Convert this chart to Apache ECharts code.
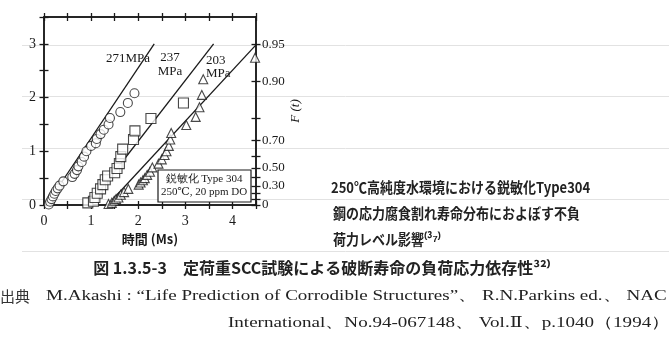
<!DOCTYPE html>
<html>
<head>
<meta charset="utf-8">
<script src="https://cdn.jsdelivr.net/npm/echarts@6/dist/echarts.min.js"></script>
<style>
html, body { margin: 0; background: #fff; }
#chart { width: 669px; height: 344px; }
</style>
</head>
<body>
<div id="chart"></div>
<script>
// 271 MPa (circles), 237 MPa (squares), 203 MPa (triangles): [time Ms, -ln(1-F)]
const circles271 = [[0.1,0.01],[0.13,0.06],[0.16,0.11],[0.19,0.16],[0.22,0.21],[0.25,0.26],[0.29,0.31],[0.33,0.36],[0.41,0.44],[0.6,0.52],[0.65,0.58],[0.7,0.65],[0.73,0.72],[0.8,0.8],[0.85,0.9],[0.9,1.0],[1.0,1.1],[1.1,1.15],[1.12,1.23],[1.2,1.32],[1.27,1.4],[1.37,1.5],[1.4,1.62],[1.62,1.73],[1.78,1.9],[1.92,2.08]]
const squares237 = [[0.93,0.04],[1.05,0.07],[1.08,0.14],[1.13,0.22],[1.2,0.3],[1.25,0.38],[1.3,0.47],[1.35,0.54],[1.5,0.6],[1.55,0.68],[1.6,0.77],[1.63,0.9],[1.67,1.04],[1.9,1.22],[1.93,1.38],[2.27,1.61],[2.96,1.9]]
const triangles203 = [[1.37,0.02],[1.44,0.04],[1.49,0.08],[1.53,0.11],[1.58,0.14],[1.63,0.19],[1.7,0.24],[1.79,0.3],[2.01,0.38],[2.05,0.42],[2.1,0.46],[2.14,0.5],[2.19,0.56],[2.25,0.62],[2.3,0.7],[2.43,0.77],[2.5,0.85],[2.56,0.93],[2.6,1.0],[2.65,1.1],[2.68,1.22],[2.7,1.34],[3.02,1.49],[3.22,1.64],[3.3,1.82],[3.35,2.05],[3.38,2.34],[4.48,2.74]]

// fitted lines
const fit271 = [[0.05,0],[2.34,3.0]]
const fit237 = [[0.95,0],[3.6,3.0]]
const fit203 = [[1.35,0],[4.5,2.98]]

// F(t) scale on the right
const fTicks = [0, 0.1, 0.2, 0.3, 0.4, 0.5, 0.6, 0.7, 0.8, 0.9, 0.95]
const fLabels = [0, 0.3, 0.5, 0.7, 0.9, 0.95]
const fPos = fTicks.map(f => -Math.log(1 - f))
const fLabelPos = fLabels.map(f => -Math.log(1 - f))

const ink = '#1a1a1a'
const serif = '"Liberation Serif", "DejaVu Serif", serif'
const jp = '"Noto Sans CJK JP", sans-serif'

const chart = echarts.init(document.getElementById('chart'))

function baseX(pos, inside, extra) {
  return Object.assign({
    type: 'value', gridIndex: 0, position: pos, min: 0, max: 4.5, interval: 0.5,
    axisLine: { show: true, onZero: false, lineStyle: { color: ink, width: 1.5 } },
    axisTick: { show: true, inside: inside, length: 4, lineStyle: { color: ink, width: 1.3 } },
    axisLabel: { show: false },
    splitLine: { show: false }
  }, extra || {})
}
function baseY(pos, inside, extra) {
  return Object.assign({
    type: 'value', gridIndex: 0, position: pos, min: 0, max: 3.5, interval: 0.5,
    axisLine: { show: true, onZero: false, lineStyle: { color: ink, width: 1.5 } },
    axisTick: { show: true, inside: inside, length: 4.5, lineStyle: { color: ink, width: 1.3 } },
    axisLabel: { show: false },
    splitLine: { show: false }
  }, extra || {})
}

const rightTick = { show: true, length: 4.5, customValues: fPos, lineStyle: { color: ink, width: 1.3 } }

chart.setOption({
  animation: false,
  grid: [
    { left: 44, right: 413, top: 17, bottom: 139 },
    { left: 22, right: 0, top: 45, bottom: 93 }
  ],
  xAxis: [
    baseX('bottom', false, {
      name: '時間 (Ms)', nameLocation: 'middle', nameGap: 26,
      nameTextStyle: { fontFamily: jp, fontSize: 13, fontWeight: 'bold', color: ink },
      axisLabel: {
        show: true, margin: 9, color: ink, fontFamily: serif, fontSize: 14,
        formatter: v => (Number.isInteger(v) && v <= 4) ? String(v) : ''
      }
    }),
    baseX('bottom', true),
    baseX('top', false),
    baseX('top', true),
    { type: 'value', gridIndex: 1, show: false, min: 0, max: 1 }
  ],
  yAxis: [
    baseY('left', false, {
      axisLabel: {
        show: true, margin: 8, color: ink, fontFamily: serif, fontSize: 14,
        formatter: v => Number.isInteger(v) ? String(v) : ''
      }
    }),
    baseY('left', true),
    baseY('right', false, {
      name: 'F (t)', nameLocation: 'middle', nameGap: 30, nameRotate: 90,
      nameTextStyle: { fontFamily: serif, fontStyle: 'italic', fontSize: 13, color: ink },
      axisTick: Object.assign({}, rightTick, { inside: false }),
      axisLabel: {
        show: true, margin: 6, color: ink, fontFamily: serif, fontSize: 13,
        customValues: fLabelPos,
        formatter: v => {
          const i = fLabelPos.findIndex(p => Math.abs(p - v) < 1e-6)
          if (i < 0) return ''
          return fLabels[i] === 0 ? '0' : fLabels[i].toFixed(2)
        }
      }
    }),
    baseY('right', true, { axisTick: Object.assign({}, rightTick, { inside: true }) }),
    {
      type: 'value', gridIndex: 1, min: 0, max: 4, interval: 1,
      axisLine: { show: false }, axisTick: { show: false }, axisLabel: { show: false },
      splitLine: { show: true, lineStyle: { color: '#e2e2e2', width: 1 } }
    }
  ],
  series: [
    {
      type: 'line', data: fit271, symbol: 'none', xAxisIndex: 0, yAxisIndex: 0,
      lineStyle: { color: ink, width: 1.3 }, z: 2
    },
    {
      type: 'line', data: fit237, symbol: 'none', xAxisIndex: 0, yAxisIndex: 0,
      lineStyle: { color: ink, width: 1.3 }, z: 2
    },
    {
      type: 'line', data: fit203, symbol: 'none', xAxisIndex: 0, yAxisIndex: 0,
      lineStyle: { color: ink, width: 1.3 }, z: 2
    },
    {
      type: 'scatter', data: circles271, symbol: 'circle', symbolSize: 9,
      itemStyle: { color: '#fff', borderColor: ink, borderWidth: 1.1 }, z: 3
    },
    {
      type: 'scatter', data: squares237, symbol: 'rect', symbolSize: 10,
      itemStyle: { color: '#fff', borderColor: ink, borderWidth: 1.1 }, z: 3
    },
    {
      type: 'scatter', data: triangles203, symbol: 'triangle', symbolSize: 9,
      itemStyle: { color: '#fff', borderColor: ink, borderWidth: 1.1 }, z: 3
    }
  ],
  graphic: [
    { type: 'text', x: 106, y: 59, style: { text: '271MPa', font: '13px ' + serif, fill: ink, textVerticalAlign: 'middle' } },
    { type: 'text', x: 170, y: 58, style: { text: '237', font: '13px ' + serif, fill: ink, textAlign: 'center', textVerticalAlign: 'middle' } },
    { type: 'text', x: 170, y: 72, style: { text: 'MPa', font: '13px ' + serif, fill: ink, textAlign: 'center', textVerticalAlign: 'middle' } },
    { type: 'text', x: 206, y: 61, style: { text: '203', font: '13px ' + serif, fill: ink, textVerticalAlign: 'middle' } },
    { type: 'text', x: 206, y: 74, style: { text: 'MPa', font: '13px ' + serif, fill: ink, textVerticalAlign: 'middle' } },
    { type: 'rect', shape: { x: 158, y: 170, width: 93, height: 32 }, style: { fill: '#fff', stroke: ink, lineWidth: 1.2 }, z: 10 },
    { type: 'text', x: 204, y: 179, z: 11, style: { text: '鋭敏化 Type 304', font: '11px ' + serif, fill: ink, textAlign: 'center', textVerticalAlign: 'middle' } },
    { type: 'text', x: 204, y: 192, z: 11, style: { text: '250℃, 20 ppm DO', font: '11px ' + serif, fill: ink, textAlign: 'center', textVerticalAlign: 'middle' } },
    { type: 'text', x: 331, y: 187, scaleY: 1.12, style: { text: '250℃高純度水環境における鋭敏化Type304', font: 'bold 13px ' + jp, fill: '#222', textVerticalAlign: 'middle' } },
    { type: 'text', x: 333, y: 213, scaleY: 1.12, style: { text: '鋼の応力腐食割れ寿命分布におよぼす不負', font: 'bold 13px ' + jp, fill: '#222', textVerticalAlign: 'middle' } },
    { type: 'text', x: 333, y: 239, scaleY: 1.12, style: { text: '荷力レベル影響⁽³⁷⁾', font: 'bold 13px ' + jp, fill: '#222', textVerticalAlign: 'middle' } },
    { type: 'text', x: 322, y: 268, style: { text: '図 1.3.5-3　定荷重SCC試験による破断寿命の負荷応力依存性³²⁾', font: 'bold 16px ' + jp, fill: '#222', textAlign: 'center', textVerticalAlign: 'middle' } },
    { type: 'text', x: 0, y: 296, style: { text: '出典', font: '15px ' + jp, fill: '#333', textVerticalAlign: 'middle' } },
    { type: 'text', x: 46, y: 296, scaleX: 1.27, style: { text: 'M.Akashi : “Life Prediction of Corrodible Structures”、 R.N.Parkins ed.、 NAC', font: '15px ' + serif, fill: '#222', textVerticalAlign: 'middle' } },
    { type: 'text', x: 228, y: 323, scaleX: 1.27, style: { text: 'International、No.94-067148、 Vol.Ⅱ、p.1040（1994）', font: '15px ' + serif, fill: '#222', textVerticalAlign: 'middle' } }
  ]
})
</script>
</body>
</html>
